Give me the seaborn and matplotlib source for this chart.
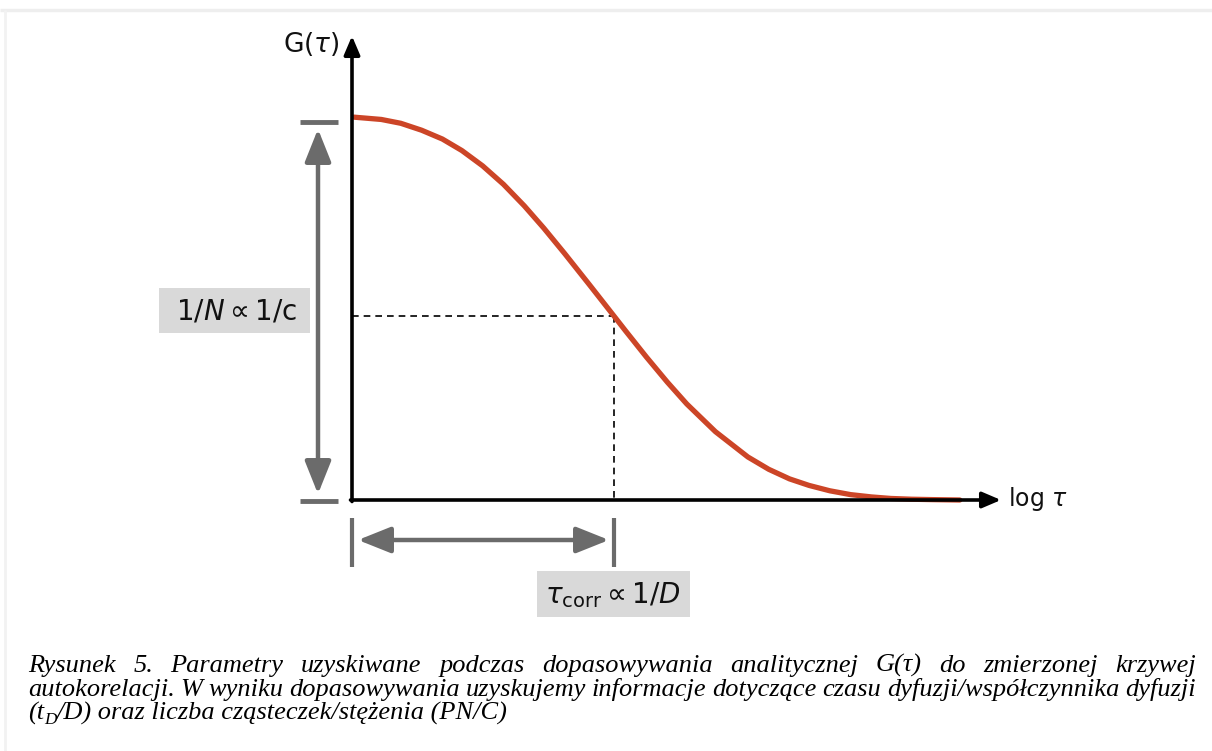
import matplotlib
matplotlib.use("Agg")
import matplotlib.pyplot as plt
from matplotlib.patches import Rectangle
import seaborn as sns

# ---------------- data ----------------
log_tau = [-2.00, -1.79, -1.64, -1.48, -1.32, -1.17, -1.01, -0.85, -0.69, -0.54,
           -0.38, -0.19, 0.00, 0.09, 0.25, 0.41, 0.56, 0.78, 1.03, 1.19,
           1.35, 1.50, 1.66, 1.82, 1.98, 2.13, 2.29, 2.45, 2.66]
g_norm = [0.997, 0.991, 0.981, 0.963, 0.940, 0.910, 0.870, 0.822, 0.766, 0.708,
          0.642, 0.561, 0.479, 0.440, 0.372, 0.307, 0.250, 0.178, 0.112, 0.080,
          0.055, 0.038, 0.024, 0.014, 0.008, 0.004, 0.002, 0.001, 0.000]
tau_corr = 0.0          # log tau at the half-amplitude point
g_half = 0.479          # G at tau_corr

y_label = r"G($\tau$)"
x_label = r"log $\tau$"
amp_label = r"$\mathrm{1/}N \propto \mathrm{1/c}$"
tau_label = r"$\tau_{\mathrm{corr}} \propto \mathrm{1/}D$"

caption_l1 = ["Rysunek", "5.", "Parametry", "uzyskiwane", "podczas", "dopasowywania",
              "analitycznej", "G(τ)", "do", "zmierzonej", "krzywej"]
caption_l2 = ["autokorelacji.", "W", "wyniku", "dopasowywania", "uzyskujemy", "informacje",
              "dotyczące", "czasu", "dyfuzji/współczynnika", "dyfuzji"]
caption_l3 = ["(t", "D", "/D) oraz liczba cząsteczek/stężenia (PN/C)"]

# ---------------- style ----------------
sns.set_theme(style="white")
plt.rcParams["font.family"] = ["DejaVu Sans"]
plt.rcParams["mathtext.fontset"] = "dejavusans"

W, H = 1212, 751
fig = plt.figure(figsize=(W / 100, H / 100), dpi=100)
fig.patch.set_facecolor("white")
ax = fig.add_axes([0, 0, 1, 1])
ax.set_facecolor("white")
ax.axis("off")

# pixel mapping (layout only)
X0, SX = 614, 130.0
Y0, SY = 500, 384.0
px = lambda p: (p - X0) / SX
py = lambda p: (Y0 - p) / SY
ax.set_xlim(px(0), px(W))
ax.set_ylim(py(H), py(0))

curve_color = "#cc4527"
gray = "#6b6b6b"
box_gray = "#d9d9d9"

# faint frame lines
ax.plot([px(0), px(W)], [py(10), py(10)], color="#eeeeee", lw=2.5, solid_capstyle="butt")
ax.plot([px(5), px(5)], [py(10), py(H)], color="#f2f2f2", lw=2, solid_capstyle="butt")

# curve
sns.lineplot(x=log_tau, y=g_norm, ax=ax, color=curve_color, linewidth=3.8,
             sort=False, estimator=None, zorder=4)
ax.lines[-1].set_solid_joinstyle("round")

# axes with arrows
x_axis = px(352)
arrow_axis = dict(arrowstyle="-|>,head_length=0.75,head_width=0.32",
                  color="black", lw=2.6, shrinkA=0, shrinkB=0, mutation_scale=15)
ax.annotate("", xy=(x_axis, py(36)), xytext=(x_axis, -1.5 / SY),
            arrowprops=arrow_axis, zorder=5)
ax.annotate("", xy=(px(1001), 0), xytext=(x_axis - 1.5 / SX, 0),
            arrowprops=arrow_axis, zorder=5)

# dashed guides
ax.plot([x_axis, tau_corr], [g_half, g_half], color="black", lw=1.2,
        linestyle=(0, (4, 3)), zorder=3)
ax.plot([tau_corr, tau_corr], [g_half, 0], color="black", lw=1.2,
        linestyle=(0, (4, 3)), zorder=3)

# amplitude double arrow
xa = px(318)
ax.plot([px(300), px(338)], [py(122), py(122)], color=gray, lw=3.5, solid_capstyle="butt")
ax.plot([px(300), px(338)], [py(501), py(501)], color=gray, lw=3.5, solid_capstyle="butt")
arrow_gray = dict(arrowstyle="<|-|>,head_length=1.0,head_width=0.4",
                  color=gray, lw=3.2, shrinkA=0, shrinkB=0, mutation_scale=20)
ax.annotate("", xy=(xa, py(129)), xytext=(xa, py(494)), arrowprops=arrow_gray)

# time double arrow
ya = py(540)
ax.plot([x_axis, x_axis], [py(518), py(567)], color=gray, lw=3, solid_capstyle="butt")
ax.plot([tau_corr, tau_corr], [py(518), py(567)], color=gray, lw=3, solid_capstyle="butt")
ax.annotate("", xy=(px(358), ya), xytext=(px(609), ya), arrowprops=arrow_gray)

# label boxes
ax.add_patch(Rectangle((px(159), py(333)), (310 - 159) / SX, (333 - 288) / SY,
                       facecolor=box_gray, edgecolor="none", zorder=1))
ax.text(px(236), py(311), amp_label, fontsize=20, ha="center", va="center",
        color="#111111", zorder=2)
ax.add_patch(Rectangle((px(537), py(617)), (690 - 537) / SX, (617 - 571) / SY,
                       facecolor=box_gray, edgecolor="none", zorder=1))
ax.text(px(613), py(595), tau_label, fontsize=20, ha="center", va="center",
        color="#111111", zorder=2)

# axis labels
ax.text(px(311), py(44), y_label, fontsize=19, ha="center", va="center", color="#111111")
ax.text(px(1008), py(499), x_label, fontsize=17, ha="left", va="center", color="#111111")

# ---------------- caption (justified) ----------------
cap_font = dict(family=["Liberation Serif", "DejaVu Serif"], style="italic",
                fontsize=19, color="black")
renderer = fig.canvas.get_renderer()
LEFT, RIGHT = 28, 1196


def fx(p):
    return p / W


def fy(p):
    return 1 - p / H


def justified(words, base_px):
    objs = [fig.text(0, fy(base_px), w, ha="left", va="baseline", **cap_font) for w in words]
    widths = [o.get_window_extent(renderer).width for o in objs]
    gap = (RIGHT - LEFT - sum(widths)) / (len(words) - 1)
    x = LEFT
    for o, w in zip(objs, widths):
        o.set_x(fx(x))
        x += w + gap


justified(caption_l1, 672)
justified(caption_l2, 696)

# third line with subscript
x = LEFT
base = 720
t1 = fig.text(fx(x), fy(base), caption_l3[0], ha="left", va="baseline", **cap_font)
x += t1.get_window_extent(renderer).width
sub_font = dict(cap_font)
sub_font["fontsize"] = 12.5
t2 = fig.text(fx(x), fy(base + 4), caption_l3[1], ha="left", va="baseline", **sub_font)
x += t2.get_window_extent(renderer).width
fig.text(fx(x), fy(base), caption_l3[2], ha="left", va="baseline", **cap_font)

fig.savefig("out.png", dpi=100, facecolor="white")
